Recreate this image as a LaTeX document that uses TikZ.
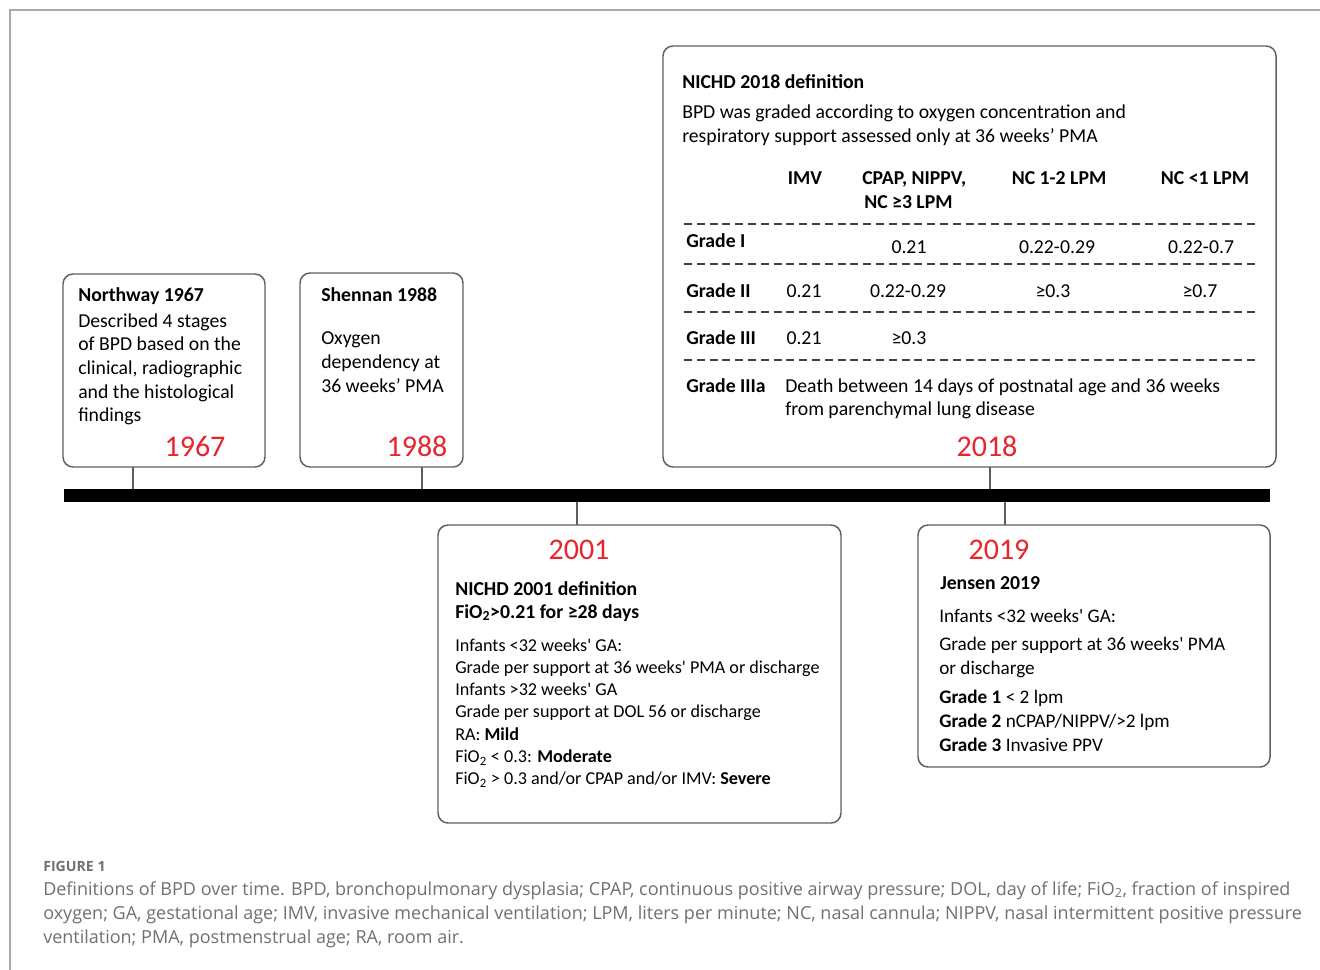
\documentclass[tikz,border=0pt]{standalone}
\usepackage{fontspec}
\setmainfont{Carlito}
\newfontfamily\capfont{Open Sans}
\usetikzlibrary{positioning}
\definecolor{yearred}{RGB}{232,36,44}
\definecolor{boxgray}{RGB}{95,95,95}
\definecolor{capgray}{RGB}{112,112,112}

\begin{document}
\begin{tikzpicture}[x=0.75pt,y=-0.75pt,
  evbox/.style={draw=boxgray,line width=1.1pt,rounded corners=7.5pt,outer sep=0pt,inner sep=0pt},
  stem/.style={draw=boxgray,line width=1.4pt},
  rule/.style={draw=black!75,line width=1.4pt,dash pattern=on 6pt off 3.6pt},
  txt/.style={anchor=base west,inner sep=0pt,font=\fontsize{14.8}{18}\selectfont},
  mid/.style={txt,anchor=base},
  head/.style={txt,font=\fontsize{14.8}{18}\selectfont\bfseries},
  small/.style={txt,font=\fontsize{13.6}{16}\selectfont},
  jtxt/.style={txt,font=\fontsize{14.4}{17}\selectfont},
  year/.style={anchor=base,inner sep=0pt,text=yearred,font=\fontsize{22.5}{26}\selectfont},
  captxt/.style={anchor=base west,inner sep=0pt,text=capgray,font=\capfont\fontsize{13.5}{16}\selectfont}]

  \useasboundingbox (0,0) rectangle (1320,970);
  \draw[capgray!60,line width=0.8pt] (10,970) -- (10,10) -- (1320,10);

  % timeline and event boxes
  \node[fill=black,minimum width=904.5pt,minimum height=9.75pt,inner sep=0pt,outer sep=0pt] (bar) at (667,495.5) {};
  \node[evbox,minimum width=151.5pt,minimum height=144.75pt] (nw) at (164,370.5) {};
  \node[evbox,minimum width=122.25pt,minimum height=145.5pt] (sh) at (381.5,370) {};
  \node[evbox,minimum width=459.75pt,minimum height=315.75pt] (ni18) at (969.5,256.5) {};
  \node[evbox,minimum width=302.25pt,minimum height=223.5pt] (ni01) at (639.5,674) {};
  \node[evbox,minimum width=264pt,minimum height=181.5pt] (je) at (1094,646) {};

  \draw[stem] (nw.south -| 133,0) -- (bar.north -| 133,0);
  \draw[stem] (sh.south -| 422,0) -- (bar.north -| 422,0);
  \draw[stem] (ni18.south -| 990,0) -- (bar.north -| 990,0);
  \draw[stem] (bar.south -| 577,0) -- (ni01.north -| 577,0);
  \draw[stem] (bar.south -| 1005,0) -- (je.north -| 1005,0);

  % Northway 1967
  \node[head] (nwt) at (78,301) {Northway 1967};
  \foreach \lbl [count=\i from 0] in {Described 4 stages,of BPD based on the,{clinical, radiographic},and the histological,findings}
    \node[txt] (nw\i) at (78,327+23.7*\i) {\lbl};
  \node[year] (y67) at (195,456) {1967};

  % Shennan 1988
  \node[head] (sht) at (321,301) {Shennan 1988};
  \foreach \lbl [count=\i from 0] in {Oxygen,dependency at,36 weeks’ PMA}
    \node[txt] (sh\i) at (321,344+24*\i) {\lbl};
  \node[year] (y88) at (417,456) {1988};

  % NICHD 2018
  \node[head] (n18t) at (682,89) {NICHD 2018 definition};
  \node[txt] (n18a) at (682,119) {BPD was graded according to oxygen concentration and};
  \node[txt] (n18b) at (682,143) {respiratory support assessed only at 36 weeks’ PMA};
  \node[head,anchor=base] (hIMV) at (805,185) {IMV};
  \node[head] (hCP1) at (862,185) {CPAP, NIPPV,};
  \node[head] (hCP2) at (864,208) {NC ≥3 LPM};
  \node[head,anchor=base] (hNC1) at (1059,185) {NC 1-2 LPM};
  \node[head,anchor=base] (hNC2) at (1205,185) {NC <1 LPM};
  \foreach \yy in {224,264,312,360}
    \draw[rule] (684,\yy) -- (1255,\yy);
  \node[head] (g1) at (686,247) {Grade I};
  \node[head] (g2) at (686,297) {Grade II};
  \node[head] (g3) at (686,344) {Grade III};
  \node[head] (g3a) at (686,392) {Grade IIIa};
  \node[mid] (g1b) at (909,253) {0.21};
  \node[mid] (g1c) at (1057,253) {0.22-0.29};
  \node[mid] (g1d) at (1201,253) {0.22-0.7};
  \node[mid] (g2a) at (804,297) {0.21};
  \node[mid] (g2b) at (908,297) {0.22-0.29};
  \node[mid] (g2c) at (1053,297) {≥0.3};
  \node[mid] (g2d) at (1200,297) {≥0.7};
  \node[mid] (g3x) at (804,344) {0.21};
  \node[mid] (g3y) at (909,344) {≥0.3};
  \node[txt] (g3aa) at (785,392) {Death between 14 days of postnatal age and 36 weeks};
  \node[txt] (g3ab) at (785,415) {from parenchymal lung disease};
  \node[year] (y18) at (987,456) {2018};

  % NICHD 2001
  \node[year] (y01) at (579,559) {2001};
  \node[head] (n01t) at (455,595) {NICHD 2001 definition};
  \node[head] (n01f) at (455,618) {FiO\textsubscript{2}>0.21 for ≥28 days};
  \foreach \lbl [count=\i from 0] in {Infants <32 weeks\textquotesingle{} GA:,
      Grade per support at 36 weeks\textquotesingle{} PMA or discharge,
      Infants >32 weeks\textquotesingle{} GA,
      Grade per support at DOL 56 or discharge,
      RA: \textbf{Mild},
      FiO\textsubscript{2} < 0.3: \textbf{Moderate},
      FiO\textsubscript{2} > 0.3 and/or CPAP and/or IMV: \textbf{Severe}}
    \node[small] (n01\i) at (455,651+22.3*\i) {\lbl};

  % Jensen 2019
  \node[year] (y19) at (999,559) {2019};
  \node[head] (jet) at (940,589) {Jensen 2019};
  \node[jtxt] (je0) at (939,622) {Infants <32 weeks\textquotesingle{} GA:};
  \node[jtxt] (je1) at (939,650) {Grade per support at 36 weeks\textquotesingle{} PMA};
  \node[jtxt] (je2) at (939,674) {or discharge};
  \node[jtxt] (je3) at (939,703) {\textbf{Grade 1} < 2 lpm};
  \node[jtxt] (je4) at (939,727) {\textbf{Grade 2} nCPAP/NIPPV/>2 lpm};
  \node[jtxt] (je5) at (939,751) {\textbf{Grade 3} Invasive PPV};

  % caption
  \node[captxt,font=\capfont\fontsize{10.6}{12}\selectfont\bfseries] (fig) at (43,871) {FIGURE 1};
  \node[captxt] (c1) at (43,895) {Definitions of BPD over time. BPD, bronchopulmonary dysplasia; CPAP, continuous positive airway pressure; DOL, day of life; FiO\textsubscript{2}, fraction of inspired};
  \node[captxt] (c2) at (43,919) {oxygen; GA, gestational age; IMV, invasive mechanical ventilation; LPM, liters per minute; NC, nasal cannula; NIPPV, nasal intermittent positive pressure};
  \node[captxt] (c3) at (43,943) {ventilation; PMA, postmenstrual age; RA, room air.};
\end{tikzpicture}
\end{document}
